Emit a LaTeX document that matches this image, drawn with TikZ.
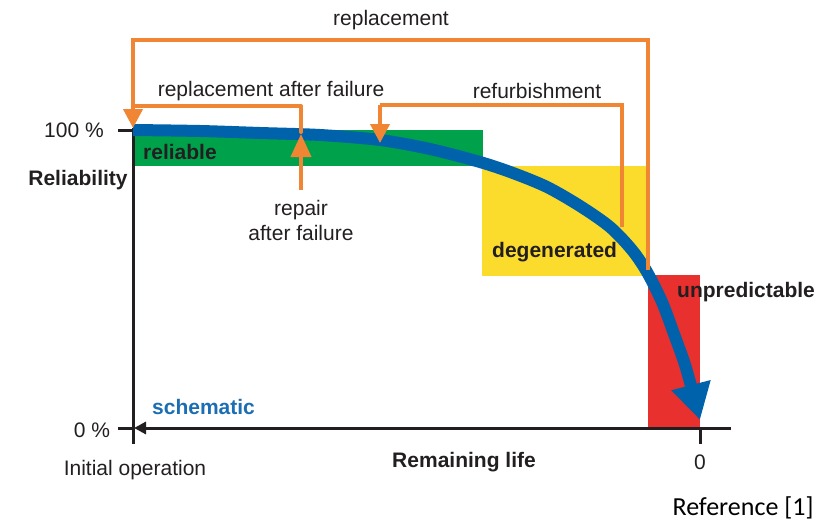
\documentclass[tikz,border=0pt]{standalone}
\usepackage{fontspec}
\setmainfont{Liberation Sans}
\newfontfamily\refont{Carlito}
\usetikzlibrary{arrows.meta}
\definecolor{ink}{RGB}{35,31,32}
\definecolor{lifeblue}{RGB}{0,98,170}
\definecolor{tagblue}{RGB}{28,110,180}
\definecolor{actorange}{RGB}{240,134,52}
\definecolor{zonegreen}{RGB}{0,161,75}
\definecolor{zoneyellow}{RGB}{251,219,44}
\definecolor{zonered}{RGB}{232,48,47}
\begin{document}
\begin{tikzpicture}[x=1pt,y=-1pt,
  lbl/.style={font=\fontsize{21}{25}\selectfont, text=ink, inner sep=0pt},
  blbl/.style={lbl, font=\fontsize{21}{25}\selectfont\bfseries},
  axis/.style={line width=3pt, draw=ink},
  action/.style={line width=4pt, draw=actorange},
  actionarrow/.style={action, -{Triangle[length=19pt,width=19pt]}}]
\useasboundingbox (0,0) rectangle (835,522);

% condition zones
\fill[zonegreen] (133,130) rectangle (483,166);
\fill[zoneyellow] (482,166) rectangle (646,276);
\fill[zonered] (648,275) rectangle (700,428);

% axes
\draw[axis] (133,128) -- (133,444);
\draw[axis] (118,130) -- (133,130);
\draw[axis] (118,428) -- (133,428);
\draw[axis, -{Triangle[length=12pt,width=12pt]}] (731,428) -- (134,428);
\draw[axis] (700,428) -- (700,444);

% reliability over remaining life
\draw[line width=12pt, lifeblue, -{Triangle[length=36pt,width=38pt]}]
  plot[smooth, tension=0.5] coordinates {(133,130) (200,131) (260,133) (320,135)
    (380,140) (430,149) (480,162) (513,173) (547,187) (580,206) (610,227)
    (632,250) (647,272) (662,302) (674,334) (686,368) (700,420)};

% maintenance actions
\coordinate (rpTop) at (648,270);
\coordinate (rpA) at (648,40);
\coordinate (rpB) at (133,40);
\coordinate (rpHead) at (133,110);
\coordinate (rpEnd) at (133,128);
\draw[action] (rpTop) -- (rpA) -- (rpB) -- (rpHead);
\draw[actionarrow] (rpB) -- (rpEnd);

\coordinate (rfStart) at (622,227);
\coordinate (rfA) at (622,105);
\coordinate (rfB) at (380,105);
\coordinate (rfEnd) at (380,143);
\draw[action] (rfStart) -- (rfA) -- (rfB);
\draw[actionarrow] (rfB) -- (rfEnd);

\coordinate (raStart) at (301,132);
\coordinate (raA) at (301,106);
\coordinate (raB) at (133,106);
\draw[action, line cap=round] (raStart) -- (raA);
\draw[action] (raA) -- (raB);

\coordinate (reStart) at (301,190);
\coordinate (reEnd) at (301,134);
\draw[action, -{Triangle[length=23pt,width=20pt]}] (reStart) -- (reEnd);

% labels
\node[lbl] (tRepl) at (391,20) {replacement};
\node[lbl] (tRaf) at (271,91) {replacement after failure};
\node[lbl] (tRef) at (537,91) {refurbishment};
\node[lbl, align=center] (tRep) at (301,220) {repair\\after failure};
\node[blbl, anchor=west] (tRel) at (143,152) {reliable};
\node[blbl, anchor=west] (tDeg) at (492,252) {degenerated};
\node[blbl, anchor=west] (tUnp) at (677,292) {unpredictable};
\node[blbl, anchor=west, text=tagblue] (tSch) at (152,407) {schematic};
\node[lbl] (tHun) at (74,130) {100 \%};
\node[blbl] (tRly) at (78,180) {Reliability};
\node[lbl] (tZer) at (92,430) {0 \%};
\node[lbl] (tIni) at (135,470) {Initial operation};
\node[blbl] (tRem) at (464,462) {Remaining life};
\node[lbl] (tEnd) at (700,462) {0};
\node[inner sep=0pt, font=\refont\fontsize{26}{30}\selectfont, text=black] (tCite) at (743,508) {Reference [1]};
\end{tikzpicture}
\end{document}
